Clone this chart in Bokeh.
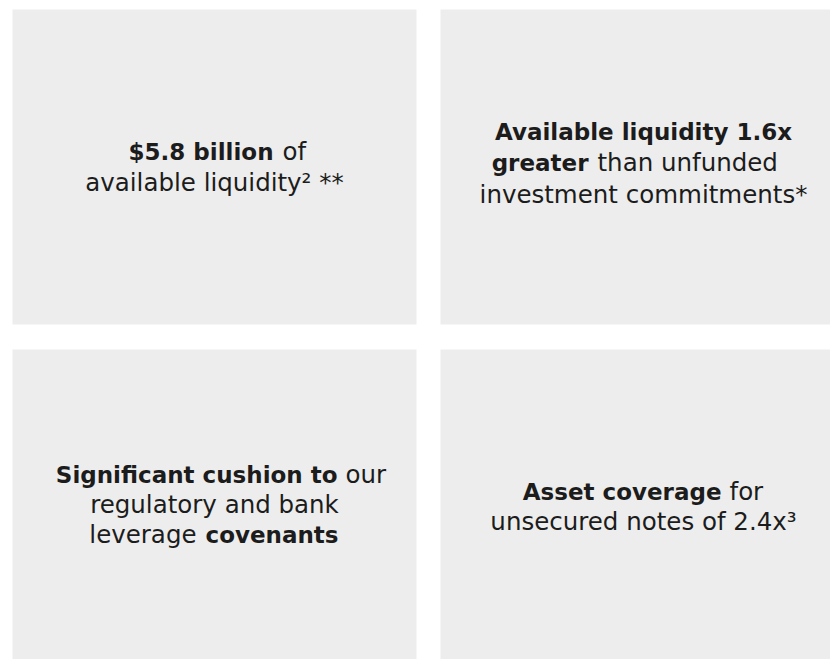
from bokeh.plotting import figure
from bokeh.models import ColumnDataSource, Range1d
from bokeh.core.properties import value
from bokeh.embed import file_html
from bokeh.resources import INLINE

# ---- content (text pieces of each panel line) ----
seg_text = [
    "$5.8 billion", "of",
    "available liquidity\u00b2 **",
    "Available liquidity 1.6x",
    "greater", "than unfunded",
    "investment commitments*",
    "Significant cushion to", "our",
    "regulatory and bank",
    "leverage", "covenants",
    "Asset coverage", "for",
    "unsecured notes of 2.4x\u00b3",
]
seg_bold = [
    True, False,
    False,
    True,
    True, False,
    False,
    True, False,
    False,
    False, True,
    True, False,
    False,
]

# ---- layout (pixel positions on the page) ----
box_left = [12, 440, 12, 440]
box_right = [416, 830, 416, 830]
box_top = [9, 9, 349, 349]
box_bottom = [324, 324, 659, 659]

seg_x = [273, 282, 214, 643, 588, 597, 643, 337, 345, 214, 196, 205, 721, 729, 643]
seg_y = [151, 151, 182, 131, 162, 162, 194, 474, 474, 504, 534, 534, 491, 491, 521]
seg_align = ["right", "left", "center", "center", "right", "left", "center",
             "right", "left", "center", "right", "left", "right", "left", "center"]

p = figure(width=830, height=659, output_backend="svg", toolbar_location=None,
           x_range=Range1d(0, 830), y_range=Range1d(659, 0),
           x_axis_location=None, y_axis_location=None, min_border=0,
           background_fill_color="white", border_fill_color="white")
p.outline_line_color = None
p.grid.visible = False

boxes = ColumnDataSource(dict(left=box_left, right=box_right, top=box_top, bottom=box_bottom))
p.quad(left="left", right="right", top="top", bottom="bottom", source=boxes,
       fill_color="#ededed", line_color=None)

bold_idx = [i for i, b in enumerate(seg_bold) if b]
reg_idx = [i for i, b in enumerate(seg_bold) if not b]

def part(idx):
    return ColumnDataSource(dict(
        x=[seg_x[i] for i in idx], y=[seg_y[i] for i in idx],
        text=[seg_text[i] for i in idx], align=[seg_align[i] for i in idx]))

p.text(x="x", y="y", text="text", source=part(bold_idx), text_align="align",
       text_baseline="alphabetic", text_font=value("DejaVu Sans"),
       text_font_size="23px", text_font_style="bold", text_color="#1c1c1c")
p.text(x="x", y="y", text="text", source=part(reg_idx), text_align="align",
       text_baseline="alphabetic", text_font=value("DejaVu Sans"),
       text_font_size="24.5px", text_font_style="normal", text_color="#1c1c1c")

open("out.html", "w").write(file_html(p, INLINE))
